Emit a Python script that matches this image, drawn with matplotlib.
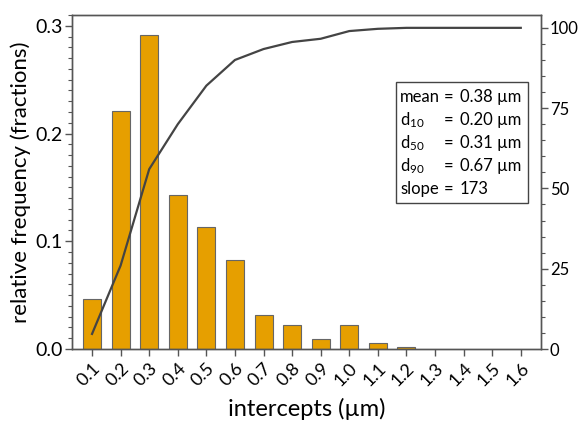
import matplotlib
matplotlib.use('Agg')
import matplotlib.pyplot as plt
from matplotlib.ticker import MultipleLocator
from matplotlib.patches import Rectangle

plt.rcParams['font.family'] = ['Lato', 'DejaVu Sans']
plt.rcParams['mathtext.fontset'] = 'custom'
plt.rcParams['mathtext.rm'] = 'Lato'
plt.rcParams['mathtext.default'] = 'regular'

# datos
tamanos = [0.1, 0.2, 0.3, 0.4, 0.5, 0.6, 0.7, 0.8, 0.9, 1.0, 1.1, 1.2]
frecuencia = [0.046, 0.221, 0.291, 0.143, 0.113, 0.083, 0.032, 0.022,
              0.009, 0.022, 0.0056, 0.0019]
x_acum = [0.1, 0.2, 0.3, 0.4, 0.5, 0.6, 0.7, 0.8, 0.9, 1.0, 1.1, 1.2,
          1.3, 1.4, 1.5, 1.6]
acumulada = [4.7, 26, 56, 70, 82, 90, 93.4, 95.6, 96.6, 99, 99.7, 100,
             100, 100, 100, 100]
etiquetas_x = ['0.1', '0.2', '0.3', '0.4', '0.5', '0.6', '0.7', '0.8',
               '0.9', '1.0', '1.1', '1.2', '1.3', '1.4', '1.5', '1.6']
filas = [('mean', '0.38 µm'), ('d$_{10}$', '0.20 µm'),
         ('d$_{50}$', '0.31 µm'), ('d$_{90}$', '0.67 µm'),
         ('slope', '173')]

gris = '#555555'

fig = plt.figure(figsize=(5.79, 4.25), dpi=100)
ax = fig.add_axes([0.1244, 0.1788, 0.8096, 0.7859])

ax.bar(tamanos, frecuencia, width=0.063, color='#E69F00',
       edgecolor='#666666', linewidth=0.8, zorder=2)
ax.set_xlim(0.03, 1.67)
ax.set_ylim(0, 0.31)
ax.set_xticks(x_acum)
ax.set_xticklabels(etiquetas_x, rotation=45, ha='right',
                   rotation_mode='anchor', fontsize=13)
ax.yaxis.set_minor_locator(MultipleLocator(0.01))
ax.set_yticks([0, 0.1, 0.2, 0.3])
ax.set_yticklabels(['0.0', '0.1', '0.2', '0.3'], fontsize=14)
ax.tick_params(which='major', length=5, width=1, color=gris)
ax.tick_params(which='minor', length=3, width=0.8, color=gris)
ax.tick_params(axis='x', pad=3)
ax.tick_params(axis='y', pad=2)
for s in ax.spines.values():
    s.set_color(gris)
    s.set_linewidth(1)
ax.set_ylabel('relative frequency (fractions)', fontsize=16, labelpad=3)
ax.set_xlabel('intercepts (µm)', fontsize=17, labelpad=6)

# eje derecho con la curva acumulada
ax2 = ax.twinx()
ax2.plot(x_acum, acumulada, color='#444444', lw=1.6, zorder=3)
ax2.set_ylim(0, 104)
ax2.yaxis.set_major_locator(MultipleLocator(25))
ax2.yaxis.set_minor_locator(MultipleLocator(5))
ax2.tick_params(which='major', length=5, width=1, color=gris,
                labelsize=12, pad=1.5)
ax2.tick_params(which='minor', length=3, width=0.8, color=gris)
for s in ax2.spines.values():
    s.set_color(gris)
    s.set_linewidth(1)

# cuadro con los parámetros
caja = Rectangle((396 / 579, 1 - 203 / 425), 132 / 579, 121 / 425,
                 transform=fig.transFigure, facecolor='white',
                 edgecolor='#444444', linewidth=1, zorder=5)
fig.patches.append(caja)
y0 = 97
for i, (nombre, valor) in enumerate(filas):
    yy = 1 - (y0 + i * 23) / 425
    fig.text(400 / 579, yy, nombre, fontsize=12, va='center', zorder=6)
    fig.text(449 / 579, yy, '=', fontsize=12, va='center', ha='center',
             zorder=6)
    fig.text(460 / 579, yy, valor, fontsize=12, va='center', zorder=6)

fig.savefig('out.png', dpi=100)
